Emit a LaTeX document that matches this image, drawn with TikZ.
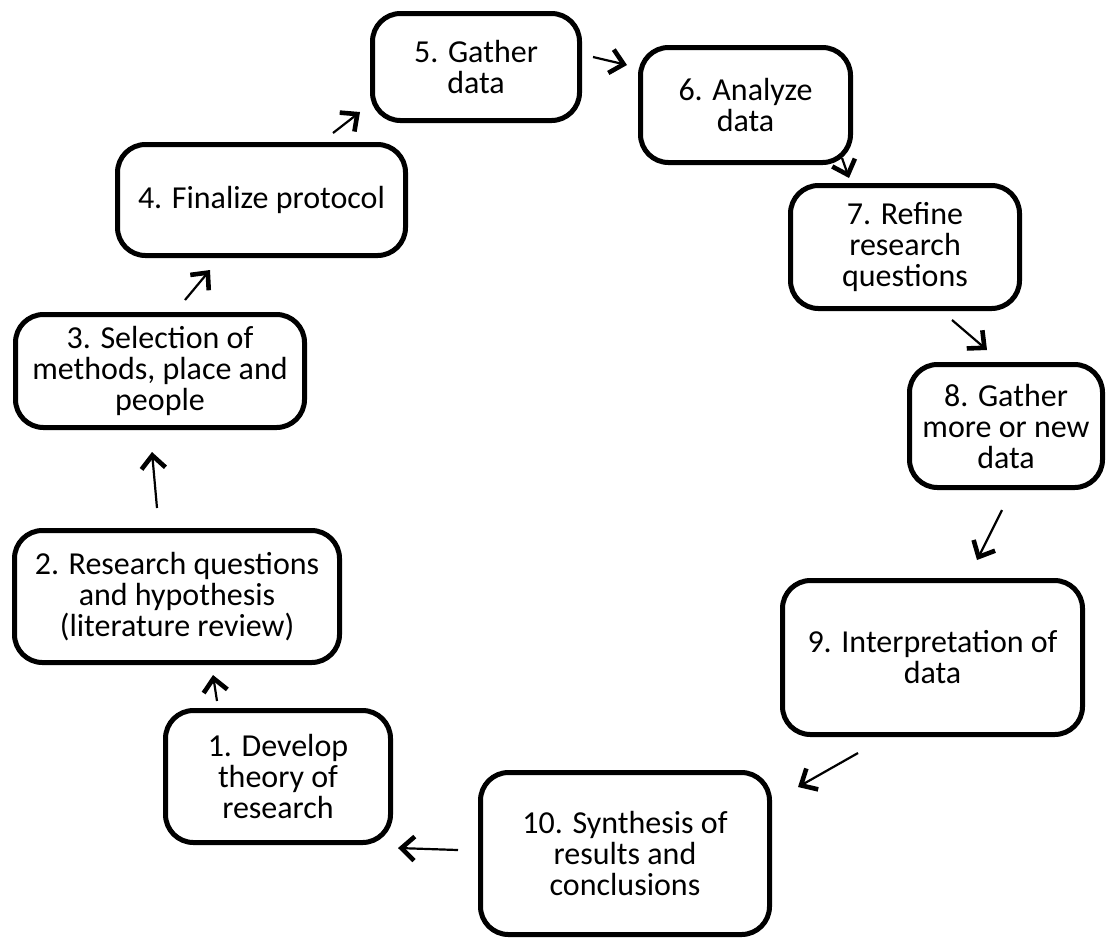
\documentclass[tikz,border=0pt]{standalone}
\usepackage{fontspec}
\setmainfont{Carlito}
\usetikzlibrary{arrows.meta}

\begin{document}
\begin{tikzpicture}[x=0.5pt,y=-0.5pt,
  >={Straight Barb[length=6.5pt,width=12pt,line width=2.3pt]},
  stage/.style={draw,line width=2.5pt,rounded corners=14pt,align=center,
    inner sep=2pt,font=\fontsize{16}{15.5}\selectfont},
  flow/.style={->,line width=1.1pt}]
\useasboundingbox (0,0) rectangle (1107,939);
% research cycle, boxes at pixel centres (x right, y down)
\foreach \n/\x/\y/\w/\h/\txt in {
  1/278/776.5/112.5/66/{1. Develop\\theory of\\research},
  2/177/596.5/162.5/66/{2. Research questions\\and hypothesis\\(literature review)},
  3/160/371/144.5/56.5/{3. Selection of\\methods, place and\\people},
  4/261.5/200/144/55.5/{4. Finalize protocol},
  5/476/67/103.5/53.5/{5. Gather\\data},
  6/745.5/105/105/57.5/{6. Analyze\\data},
  7/905/247/114.5/61.5/{7. Refine\\research\\questions},
  8/1006/426/96.5/61.5/{8. Gather\\more or new\\data},
  9/932.5/657.5/150/77/{9. Interpretation of\\data},
  10/625/853.5/144.5/81/{10. Synthesis of\\results and\\conclusions}}{
  \node[stage,minimum width=\w pt,minimum height=\h pt] (s\n) at (\x,\y) {\txt};
}
% short arrows between the boxes (tail t, head h)
\coordinate (t1) at (217,701);   \coordinate (h1) at (213,675);
\coordinate (t2) at (157,508);   \coordinate (h2) at (152,452);
\coordinate (t3) at (185,300);   \coordinate (h3) at (210,270);
\coordinate (t4) at (333,133);   \coordinate (h4) at (360,112);
\coordinate (t5) at (593,57);    \coordinate (h5) at (627,65);
\coordinate (t6) at (842,158);   \coordinate (h6) at (849,178);
\coordinate (t7) at (952,320);   \coordinate (h7) at (987,350);
\coordinate (t8) at (1002,510);  \coordinate (h8) at (977,560);
\coordinate (t9) at (858,753);   \coordinate (h9) at (798,787);
\coordinate (t10) at (458,850);  \coordinate (h10) at (398,848);
\foreach \i in {1,...,10}{
  \draw[flow] (t\i) -- (h\i);
}
\end{tikzpicture}
\end{document}
